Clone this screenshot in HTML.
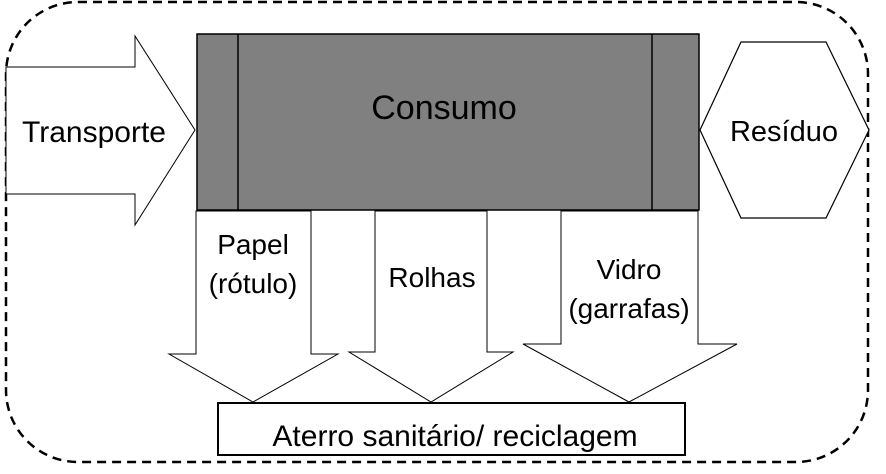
<!DOCTYPE html>
<html><head><meta charset="utf-8"><style>
html,body{margin:0;padding:0;background:#fff;}
svg{display:block;}
text{font-family:"Liberation Sans",sans-serif;fill:#000;}
</style></head><body>
<svg width="886" height="474" viewBox="0 0 886 474" xmlns="http://www.w3.org/2000/svg">
<rect x="6" y="2" width="862" height="460" rx="72" ry="72" fill="none" stroke="#000" stroke-width="2.5" stroke-dasharray="9,6"/>
<polygon points="6,67 135,67 135,36 195,130 135,225 135,194 6,194" fill="#fff" stroke="#000" stroke-width="1"/>
<rect x="197" y="34" width="502" height="176" fill="#808080" stroke="#000" stroke-width="1.5"/>
<line x1="238" y1="34" x2="238" y2="210" stroke="#000" stroke-width="1.5"/>
<line x1="652" y1="34" x2="652" y2="210" stroke="#000" stroke-width="1.5"/>
<polygon points="700,130 741,42 826,42 869,130 826,218 741,218" fill="#fff" stroke="#000" stroke-width="1.2"/>
<polygon points="196,211 311,211 311,354 338,354 253,402 169,354 196,354" fill="#fff" stroke="#000" stroke-width="1"/>
<polygon points="375,211 487,211 487,352 513,352 431,402 349,352 375,352" fill="#fff" stroke="#000" stroke-width="1"/>
<polygon points="561,211 698,211 698,344 737,344 629,402 523,344 561,344" fill="#fff" stroke="#000" stroke-width="1"/>
<rect x="218" y="403" width="467" height="52" fill="#fff" stroke="#000" stroke-width="2"/>
<text x="444" y="119" font-size="34" text-anchor="middle">Consumo</text>
<text x="94" y="142" font-size="30" text-anchor="middle">Transporte</text>
<text x="784" y="141" font-size="29" text-anchor="middle">Resíduo</text>
<text x="253" y="254" font-size="28" text-anchor="middle">Papel</text>
<text x="253" y="293" font-size="28" text-anchor="middle">(rótulo)</text>
<text x="432" y="287" font-size="28" text-anchor="middle">Rolhas</text>
<text x="629" y="279" font-size="28" text-anchor="middle">Vidro</text>
<text x="629" y="318" font-size="28" text-anchor="middle">(garrafas)</text>
<text x="455" y="446" font-size="30" text-anchor="middle">Aterro sanitário/ reciclagem</text>
</svg>
</body></html>
